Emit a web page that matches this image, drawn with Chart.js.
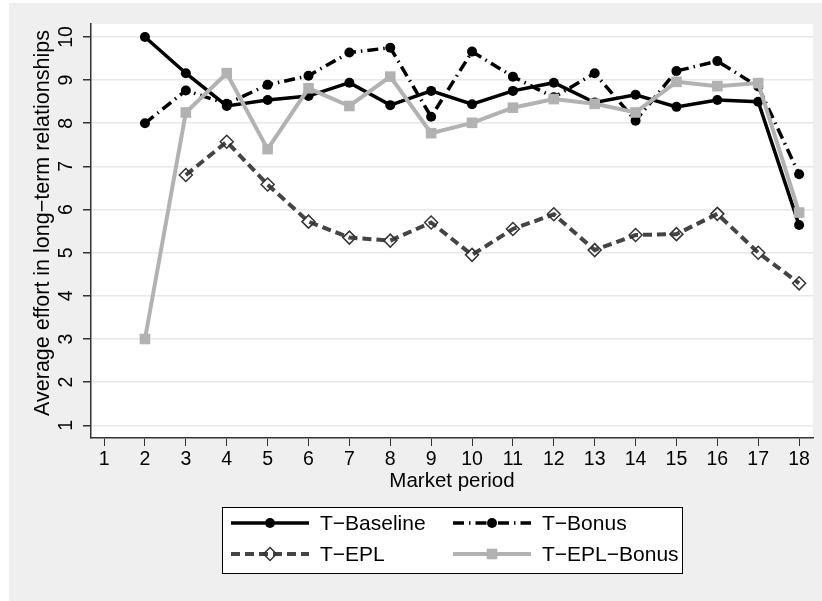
<!DOCTYPE html>
<html>
<head>
<meta charset="utf-8">
<script src="https://cdn.jsdelivr.net/npm/chart.js@4.4.1/dist/chart.umd.min.js"></script>
<style>
  html, body { margin: 0; padding: 0; background: #ffffff; }
  #wrap { width: 822px; height: 601px; }
</style>
</head>
<body>
<div id="wrap"><canvas id="myChart" width="822" height="601"></canvas></div>
<script>
"use strict";

// values, market periods 2..18
var periods = [2, 3, 4, 5, 6, 7, 8, 9, 10, 11, 12, 13, 14, 15, 16, 17, 18];
var baseline = [10.0, 9.16, 8.40, 8.54, 8.63, 8.94, 8.42, 8.75, 8.44, 8.75, 8.94, 8.48, 8.66, 8.38, 8.54, 8.50, 5.64];
var bonus = [8.0, 8.76, 8.45, 8.89, 9.10, 9.64, 9.75, 8.15, 9.66, 9.08, 8.60, 9.16, 8.06, 9.21, 9.44, 8.85, 6.82];
var epl = [null, 6.80, 7.57, 6.58, 5.72, 5.35, 5.28, 5.70, 4.95, 5.55, 5.89, 5.06, 5.41, 5.43, 5.90, 5.00, 4.29];
var eplBonus = [3.00, 8.25, 9.16, 7.40, 8.81, 8.40, 9.08, 7.77, 8.01, 8.36, 8.56, 8.45, 8.25, 8.96, 8.86, 8.93, 5.93];

var xTicks = [1, 2, 3, 4, 5, 6, 7, 8, 9, 10, 11, 12, 13, 14, 15, 16, 17, 18];
var yTicks = [1, 2, 3, 4, 5, 6, 7, 8, 9, 10];

var FONT = "'Liberation Sans', Arial, sans-serif";

function points(vals) {
    var out = [];
    for (var i = 0; i < periods.length; i++) {
        if (vals[i] !== null) out.push({ x: periods[i], y: vals[i] });
    }
    return out;
}

// gray outer background + white plot region
var backgroundPlugin = {
    id: 'bg',
    beforeDraw: function(chart) {
        var ctx = chart.ctx, a = chart.chartArea;
        ctx.save();
        ctx.fillStyle = '#ffffff';
        ctx.fillRect(0, 0, chart.width, chart.height);
        ctx.fillStyle = '#efefef';
        ctx.fillRect(9, 3, chart.width - 9, chart.height - 3);
        ctx.fillStyle = '#ffffff';
        ctx.fillRect(a.left, a.top, a.right - a.left, a.bottom - a.top);
        ctx.restore();
    }
};

// rotated y tick labels and y title, Stata style
var yLabelsPlugin = {
    id: 'ylabels',
    afterDraw: function(chart) {
        var ctx = chart.ctx, ys = chart.scales.y, a = chart.chartArea;
        ctx.save();
        ctx.fillStyle = '#000';
        ctx.textAlign = 'center';
        ctx.textBaseline = 'middle';
        ctx.font = '19.5px ' + FONT;
        yTicks.forEach(function(v) {
            ctx.save();
            ctx.translate(67, ys.getPixelForValue(v));
            ctx.rotate(-Math.PI / 2);
            ctx.fillText(String(v), 0, 0);
            ctx.restore();
        });
        ctx.font = '21.5px ' + FONT;
        ctx.translate(43, 223);
        ctx.rotate(-Math.PI / 2);
        ctx.fillText('Average effort in long\u2212term relationships', 0, 0);
        ctx.restore();
    }
};

function drawMarker(ctx, ds, x, y) {
    var r = ds.pointRadius;
    ctx.save();
    ctx.setLineDash([]);
    ctx.lineWidth = ds.pointBorderWidth;
    ctx.strokeStyle = ds.pointBorderColor;
    ctx.fillStyle = ds.pointBackgroundColor;
    ctx.beginPath();
    if (ds.pointStyle === 'circle') {
        ctx.arc(x, y, r, 0, Math.PI * 2);
    } else if (ds.pointStyle === 'rect') {
        var s = r * Math.SQRT1_2;
        ctx.rect(x - s, y - s, 2 * s, 2 * s);
    } else {
        ctx.moveTo(x, y - r); ctx.lineTo(x + r, y); ctx.lineTo(x, y + r); ctx.lineTo(x - r, y); ctx.closePath();
    }
    ctx.fill();
    if (ds.pointBorderWidth > 0) ctx.stroke();
    ctx.restore();
}

// boxed two-column legend under the axis title
var legendPlugin = {
    id: 'boxLegend',
    afterDraw: function(chart) {
        var ctx = chart.ctx;
        var box = { x: 222, y: 507, w: 460, h: 66 };
        var cols = [231, 453];
        var rows = [523, 554];
        ctx.save();
        ctx.fillStyle = '#ffffff';
        ctx.fillRect(box.x, box.y, box.w, box.h);
        ctx.strokeStyle = '#000';
        ctx.lineWidth = 1;
        ctx.strokeRect(box.x + 0.5, box.y + 0.5, box.w, box.h);
        chart.data.datasets.forEach(function(ds, i) {
            var x0 = cols[i % 2], y0 = rows[Math.floor(i / 2)];
            ctx.save();
            ctx.strokeStyle = ds.borderColor;
            ctx.lineWidth = ds.borderWidth;
            ctx.setLineDash(ds.borderDash || []);
            ctx.beginPath();
            ctx.moveTo(x0, y0);
            ctx.lineTo(x0 + 78, y0);
            ctx.stroke();
            ctx.restore();
            drawMarker(ctx, ds, x0 + 39, y0);
            ctx.fillStyle = '#000';
            ctx.font = '21px ' + FONT;
            ctx.textAlign = 'left';
            ctx.textBaseline = 'middle';
            ctx.fillText(ds.label, x0 + 89, y0 + 1);
        });
        ctx.restore();
    }
};

var myChart = document.getElementById('myChart').getContext('2d');
var chart = new Chart(myChart, {
    type: 'line',
    data: {
        datasets: [{
            label: 'T\u2212Baseline',
            data: points(baseline),
            borderColor: '#000000',
            borderWidth: 3.5,
            pointStyle: 'circle',
            pointRadius: 5,
            pointBackgroundColor: '#000000',
            pointBorderColor: '#000000',
            pointBorderWidth: 0,
            order: 4
        },
        {
            label: 'T\u2212Bonus',
            data: points(bonus),
            borderColor: '#000000',
            borderWidth: 3.5,
            borderDash: [11, 5, 1.5, 5],
            pointStyle: 'circle',
            pointRadius: 5,
            pointBackgroundColor: '#000000',
            pointBorderColor: '#000000',
            pointBorderWidth: 0,
            order: 3
        },
        {
            label: 'T\u2212EPL',
            data: points(epl),
            borderColor: '#444444',
            borderWidth: 4,
            borderDash: [9, 5],
            pointStyle: 'rectRot',
            pointRadius: 6.5,
            pointBackgroundColor: 'rgba(255,255,255,0)',
            pointBorderColor: '#333333',
            pointBorderWidth: 1.5,
            order: 2
        },
        {
            label: 'T\u2212EPL\u2212Bonus',
            data: points(eplBonus),
            borderColor: '#b2b2b2',
            borderWidth: 4,
            pointStyle: 'rect',
            pointRadius: 7.5,
            pointBackgroundColor: '#b2b2b2',
            pointBorderColor: '#b2b2b2',
            pointBorderWidth: 0,
            order: 1
        }]
    },
    options: {
        responsive: false,
        animation: false,
        devicePixelRatio: 1,
        layout: { padding: { left: 0, top: 24, right: 9, bottom: 107 } },
        plugins: {
            legend: { display: false },
            tooltip: { enabled: false }
        },
        elements: { line: { tension: 0 } },
        scales: {
            x: {
                type: 'linear',
                min: 0.68,
                max: 18.34,
                afterBuildTicks: function(scale) {
                    scale.ticks = xTicks.map(function(v) { return { value: v }; });
                },
                afterFit: function(scale) { scale.height = 56; },
                ticks: {
                    autoSkip: false,
                    maxRotation: 0,
                    padding: 2,
                    color: '#000',
                    font: { family: FONT, size: 19.5 }
                },
                grid: {
                    drawOnChartArea: false,
                    drawTicks: true,
                    tickLength: 8,
                    tickColor: '#333333'
                },
                border: { color: '#333333', width: 1.5 },
                title: {
                    display: true,
                    text: 'Market period',
                    color: '#000',
                    font: { family: FONT, size: 20.5 },
                    padding: { top: 0, bottom: 0 }
                }
            },
            y: {
                type: 'linear',
                min: 0.706,
                max: 10.30,
                afterBuildTicks: function(scale) {
                    scale.ticks = yTicks.map(function(v) { return { value: v }; });
                },
                afterFit: function(scale) { scale.width = 91; },
                ticks: { display: false },
                grid: {
                    color: '#e8e8e8',
                    lineWidth: 1.5,
                    drawTicks: true,
                    tickLength: 8,
                    tickColor: '#333333'
                },
                border: { color: '#333333', width: 1.5 }
            }
        }
    },
    plugins: [backgroundPlugin, yLabelsPlugin, legendPlugin]
});
</script>
</body>
</html>
